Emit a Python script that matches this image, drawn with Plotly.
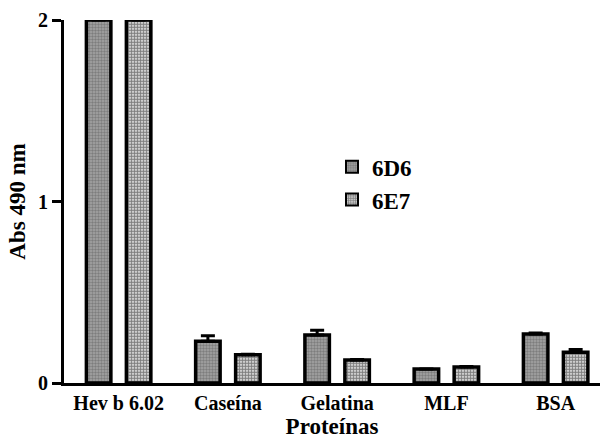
import plotly.graph_objects as go

categories = ["Hev b 6.02", "Caseína", "Gelatina", "MLF", "BSA"]
series_names = ["6D6", "6E7"]
values_6d6 = [2.0, 0.23, 0.265, 0.077, 0.27]
values_6e7 = [2.0, 0.155, 0.127, 0.088, 0.17]
err_6d6 = [0.0, 0.03, 0.025, 0.0, 0.005]
err_6e7 = [0.0, 0.003, 0.003, 0.003, 0.015]
y_ticks = [0, 1, 2]

font_family = "Liberation Serif"

fig = go.Figure()
fig.add_trace(go.Bar(
    name=series_names[0], x=categories, y=values_6d6,
    marker=dict(color="#8e8e8e", line=dict(color="black", width=3.5),
                pattern=dict(shape=".", size=3, solidity=0.5, fgcolor="#555555", bgcolor="#a5a5a5")),
    error_y=dict(type="data", array=err_6d6, symmetric=False, arrayminus=[0]*5,
                 color="black", thickness=3, width=7),
    cliponaxis=False,
))
fig.add_trace(go.Bar(
    name=series_names[1], x=categories, y=values_6e7,
    marker=dict(color="#999999", line=dict(color="black", width=3.5),
                pattern=dict(shape=".", size=3, solidity=0.7, fgcolor="#000000", bgcolor="#ffffff")),
    error_y=dict(type="data", array=err_6e7, symmetric=False, arrayminus=[0]*5,
                 color="black", thickness=3, width=7),
    cliponaxis=False,
))

fig.update_layout(
    width=602, height=439,
    margin=dict(l=64, r=2, t=20, b=56),
    paper_bgcolor="white", plot_bgcolor="white",
    barmode="group", bargap=0.268, bargroupgap=0.3875,
    font=dict(family=font_family, color="black", size=16),
    showlegend=True,
    legend=dict(x=0.50, y=0.655, xanchor="left", yanchor="top",
                font=dict(family=font_family, size=23, weight="bold"),
                bgcolor="rgba(0,0,0,0)", tracegroupgap=8, itemsizing="constant"),
    xaxis=dict(
        range=[-0.5, 4.406], showline=True, linecolor="black", linewidth=3,
        ticks="", tickfont=dict(family=font_family, size=20, weight="bold"),
        title=dict(text="Proteínas", font=dict(family=font_family, size=23, weight="bold"), standoff=0),
        showgrid=False, zeroline=False,
    ),
    yaxis=dict(
        range=[0, 2], tickvals=y_ticks, ticktext=[str(v) for v in y_ticks],
        showline=True, linecolor="black", linewidth=3,
        ticks="outside", ticklen=9, tickwidth=3, tickcolor="black",
        tickfont=dict(family=font_family, size=20, weight="bold"),
        title=dict(text="Abs 490 nm", font=dict(family=font_family, size=23, weight="bold"), standoff=6),
        showgrid=False, zeroline=False,
    ),
)

fig.write_html("out.html", config={"displayModeBar": False},
               post_script="document.body.style.margin='0';")
